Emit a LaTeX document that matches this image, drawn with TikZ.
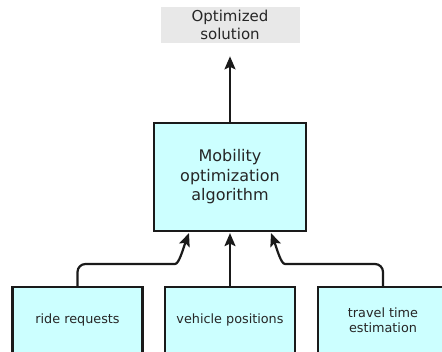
\documentclass[tikz,border=0pt]{standalone}
\usepackage{fontspec}
\setmainfont{DejaVu Sans}
\usetikzlibrary{arrows.meta, positioning}
\definecolor{boxCyan}{HTML}{CCFFFF}
\definecolor{outGray}{HTML}{E8E8E8}
\definecolor{lineDark}{HTML}{1A1A1A}
\definecolor{textDark}{HTML}{262626}

\tikzset{
  block/.style={draw=lineDark, line width=2.2pt, fill=boxCyan, align=center,
    text=textDark, inner sep=0pt},
  inbox/.style={block, minimum width=130pt, minimum height=66pt,
    font=\fontsize{12.8}{15.5}\selectfont},
  feed/.style={-{Stealth[length=13pt, width=11pt, inset=2.5pt]}, line width=2.2pt,
    draw=lineDark, rounded corners=8pt},
}

\begin{document}
\begin{tikzpicture}[x=1pt, y=-1pt]
        \clip (0,0) rectangle (442,351);
        % result and solver
        \node[fill=outGray, minimum width=139pt, minimum height=36pt, align=center,
          text=textDark, font=\fontsize{15}{18}\selectfont] (result) at (230,25) {Optimized\\solution};
        \node[block, minimum width=152pt, minimum height=108pt,
          font=\fontsize{16}{19.5}\selectfont] (algo) at (230,177) {Mobility\\optimization\\algorithm};
        % inputs along the bottom
        \node[inbox] (rides) at (77.5,320) {ride requests};
        \node[inbox] (vehicles) at (230,320) {vehicle positions};
        \node[inbox] (ttime) at (383,320) {travel time\\estimation};
        \coordinate (tipL) at ([xshift=-41pt, yshift=-1pt]algo.south);
        \coordinate (tipR) at ([xshift=41pt, yshift=-1pt]algo.south);
        \draw[feed] (rides.north) |- (167,264) .. controls (179,264) and (183,249) .. (tipL);
        \draw[feed] (vehicles.north) -- ([yshift=-1pt]vehicles.north |- algo.south);
        \draw[feed] (ttime.north) |- (293,264) .. controls (281,264) and (277,249) .. (tipR);
        \draw[feed, shorten >=13pt] (algo.north) -- (result.south);
      \end{tikzpicture}
\end{document}
